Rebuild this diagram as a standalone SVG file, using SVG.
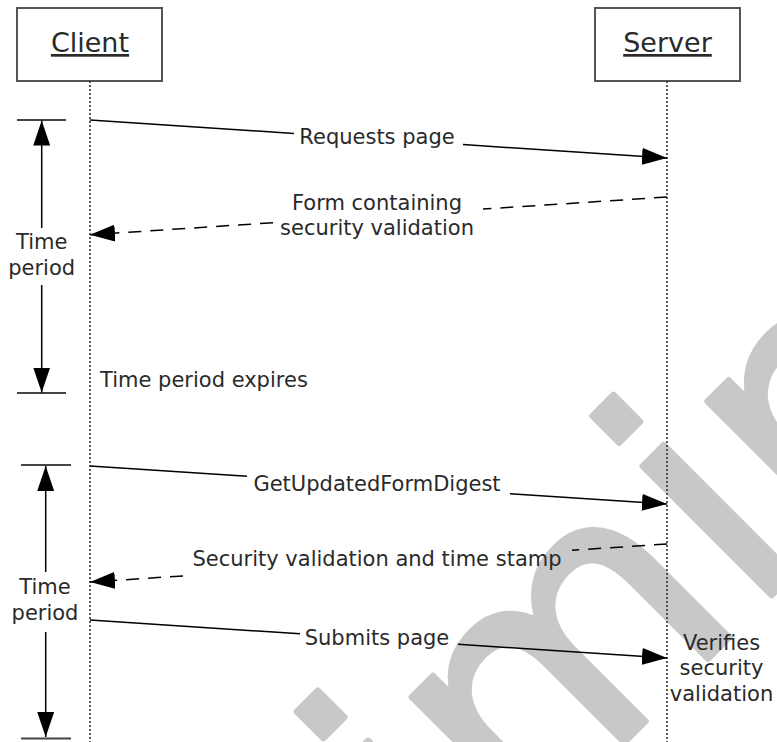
<svg xmlns="http://www.w3.org/2000/svg" width="777" height="742" viewBox="0 0 777 742">
<style>
.t{font-family:"DejaVu Sans","Verdana",sans-serif;font-size:21px;fill:#2a2a2a}
.h{font-family:"DejaVu Sans","Verdana",sans-serif;font-size:27px;fill:#2a2a2a;text-decoration:underline}
.box{fill:#fff;stroke:#555;stroke-width:2}
.life{stroke:#333;stroke-width:1.6;stroke-dasharray:2 2;fill:none}
.msg{stroke:#000;stroke-width:1.5;fill:none}
.dash{stroke:#000;stroke-width:1.5;fill:none;stroke-dasharray:13 9}
.bar{stroke:#444;stroke-width:2}
.wm{font-family:"DejaVu Sans",sans-serif;font-size:334px;fill:#c8c8c8;stroke:#c8c8c8;stroke-width:6;stroke-linejoin:round}
</style>
<defs>
<marker id="ah" viewBox="0 0 25 17" refX="25" refY="8.5" markerWidth="25" markerHeight="17" markerUnits="userSpaceOnUse" orient="auto">
<path d="M0,0 L25,8.5 L0,17 z" fill="#000"/>
</marker>
</defs>
<rect width="777" height="742" fill="#fff"/>
<text class="wm" transform="translate(1,1366) rotate(-45)">preliminary</text>

<g id="client">
<rect class="box" x="17" y="8" width="145" height="73"/>
<text class="h" x="90" y="52" text-anchor="middle">Client</text>
<line class="life" x1="90" y1="81" x2="90" y2="742"/>
</g>
<g id="server">
<rect class="box" x="595" y="8" width="145" height="73"/>
<text class="h" x="667.5" y="52" text-anchor="middle">Server</text>
<line class="life" x1="667" y1="81" x2="667" y2="742"/>
</g>

<g id="period1">
<line class="bar" x1="17" y1="120" x2="66" y2="120"/>
<line class="bar" x1="17" y1="393" x2="66" y2="393"/>
<line class="msg" x1="41.7" y1="228" x2="41.7" y2="120.5" marker-end="url(#ah)"/>
<line class="msg" x1="41.7" y1="285" x2="41.7" y2="392.5" marker-end="url(#ah)"/>
<text class="t" x="41.7" y="249" text-anchor="middle">Time</text>
<text class="t" x="41.7" y="275" text-anchor="middle">period</text>
</g>
<g id="period2">
<line class="bar" x1="21" y1="465" x2="71" y2="465"/>
<line class="bar" x1="21" y1="738.5" x2="71" y2="738.5"/>
<line class="msg" x1="45.7" y1="572" x2="45.7" y2="466" marker-end="url(#ah)"/>
<line class="msg" x1="45.7" y1="632" x2="45.7" y2="737" marker-end="url(#ah)"/>
<text class="t" x="45" y="594" text-anchor="middle">Time</text>
<text class="t" x="45" y="620" text-anchor="middle">period</text>
</g>

<g id="connectors">
<line class="msg" x1="90" y1="120" x2="294" y2="133.4"/>
<line class="msg" x1="463" y1="144.6" x2="667" y2="158" marker-end="url(#ah)"/>
<line class="dash" x1="667" y1="197" x2="483" y2="209.1"/>
<line class="dash" x1="273" y1="222.7" x2="90" y2="234.8" marker-end="url(#ah)"/>
<line class="msg" x1="90" y1="466" x2="247" y2="476.3"/>
<line class="msg" x1="510" y1="493.7" x2="667" y2="504" marker-end="url(#ah)"/>
<line class="dash" x1="667" y1="544" x2="572" y2="550.3"/>
<line class="dash" x1="183" y1="575.9" x2="90" y2="582" marker-end="url(#ah)"/>
<line class="msg" x1="90" y1="620" x2="300" y2="633.8"/>
<line class="msg" x1="458" y1="644.2" x2="667" y2="658" marker-end="url(#ah)"/>
</g>

<g id="labels">
<text class="t" x="377" y="144" text-anchor="middle">Requests page</text>
<text class="t" x="377" y="210" text-anchor="middle">Form containing</text>
<text class="t" x="377" y="235" text-anchor="middle">security validation</text>
<text class="t" x="100" y="387">Time period expires</text>
<text class="t" x="377" y="491" text-anchor="middle">GetUpdatedFormDigest</text>
<text class="t" x="377" y="566" text-anchor="middle">Security validation and time stamp</text>
<text class="t" x="377" y="645" text-anchor="middle">Submits page</text>
<text class="t" x="721.5" y="650" text-anchor="middle">Verifies</text>
<text class="t" x="721.5" y="675" text-anchor="middle">security</text>
<text class="t" x="721.5" y="700.5" text-anchor="middle">validation</text>
</g>
</svg>
